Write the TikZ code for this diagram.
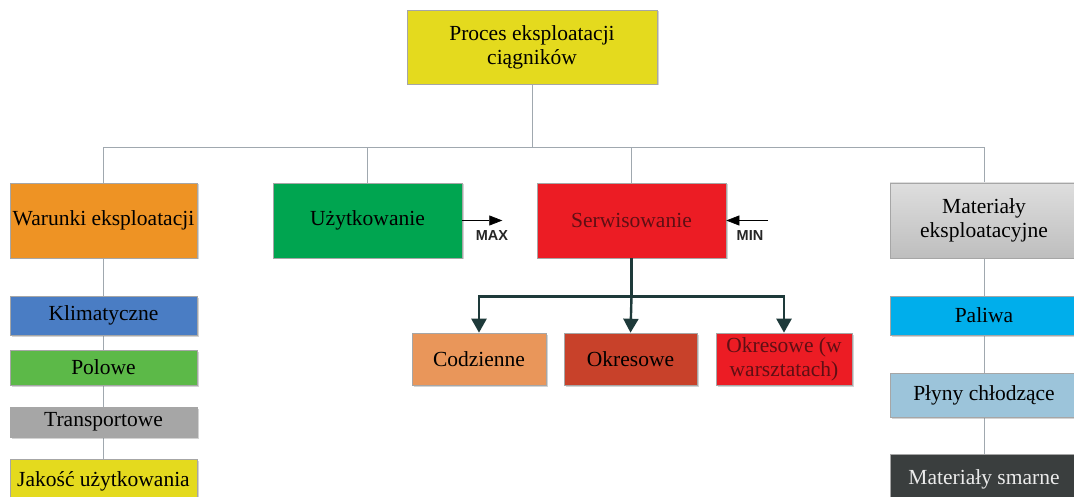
\documentclass[tikz,border=0pt]{standalone}
\usepackage{fontspec}
\setmainfont{Liberation Serif}
\setsansfont{Liberation Sans}
\usetikzlibrary{arrows.meta,shadows,backgrounds}
\definecolor{cTop}{RGB}{228,218,30}
\definecolor{cWar}{RGB}{238,147,36}
\definecolor{cUzy}{RGB}{0,165,80}
\definecolor{cSer}{RGB}{236,28,36}
\definecolor{cMat}{RGB}{200,200,200}
\definecolor{cKli}{RGB}{74,125,196}
\definecolor{cPol}{RGB}{92,185,72}
\definecolor{cTra}{RGB}{166,166,166}
\definecolor{cCod}{RGB}{233,150,90}
\definecolor{cOkr}{RGB}{200,65,42}
\definecolor{cPal}{RGB}{0,174,235}
\definecolor{cPly}{RGB}{156,196,218}
\definecolor{cSma}{RGB}{58,62,62}
\definecolor{cLine}{RGB}{160,168,175}
\definecolor{cDark}{RGB}{30,58,58}
\definecolor{cSerTxt}{RGB}{95,15,20}
\tikzset{
  box/.style={draw=black!35, line width=0.6pt, inner sep=0pt, align=center,
    font=\fontsize{21.5}{24}\selectfont,
    drop shadow={shadow xshift=1.5pt, shadow yshift=-1.5pt, opacity=0.35}},
  conn/.style={draw=cLine, line width=1pt},
  darrow/.style={draw=cDark, line width=2.4pt, -{Triangle[length=14pt,width=15pt]}},
  dline/.style={draw=cDark, line width=2.4pt},
  marrow/.style={draw=black, line width=0.6pt, -{Triangle[length=13pt,width=10pt]}},
  mlabel/.style={font=\sffamily\bfseries\fontsize{14.5}{16}\selectfont, inner sep=0pt, text=black!85}
}
\begin{document}
\begin{tikzpicture}[x=1pt,y=-1pt]
\useasboundingbox (0,0) rectangle (1074,497);
% main boxes
\node[box, fill=cTop, minimum width=250pt, minimum height=74pt] (top) at (532,47) {Proces eksploatacji\\ciągników};
\node[box, fill=cWar, minimum width=187pt, minimum height=75pt] (war) at (103.5,220.5) {Warunki eksploatacji};
\node[box, fill=cUzy, minimum width=189pt, minimum height=75pt] (uzy) at (367.5,220.5) {Użytkowanie};
\node[box, fill=cSer, minimum width=189pt, minimum height=75pt, text=cSerTxt] (ser) at (631.5,220.5) {Serwisowanie};
\node[box, top color=cMat!60, bottom color=cMat!95!black, minimum width=188pt, minimum height=75pt] (mat) at (984,220.5) {Materiały\\eksploatacyjne};
% left column
\node[box, fill=cKli, minimum width=187pt, minimum height=39pt] (kli) at (103.5,315.5) {Klimatyczne};
\node[box, fill=cPol, minimum width=187pt, minimum height=35pt] (pol) at (103.5,367.5) {Polowe};
\node[box, fill=cTra, minimum width=187pt, minimum height=30pt] (tra) at (103.5,422) {Transportowe};
\node[box, fill=cTop, minimum width=187pt, minimum height=45pt] (jak) at (103.5,481.5) {Jakość użytkowania};
% service children
\node[box, fill=cCod, minimum width=134pt, minimum height=52pt] (cod) at (479,359) {Codzienne};
\node[box, fill=cOkr, minimum width=133pt, minimum height=52pt] (okr) at (630.5,359) {Okresowe};
\node[box, fill=cSer, minimum width=136pt, minimum height=52pt, text=cSerTxt] (okw) at (784,359) {Okresowe (w\\warsztatach)};
% right column
\node[box, fill=cPal, minimum width=188pt, minimum height=39pt] (pal) at (984,315.5) {Paliwa};
\node[box, fill=cPly, minimum width=188pt, minimum height=44pt] (ply) at (984,395) {Płyny chłodzące};
\node[box, fill=cSma, text=white!92!black, minimum width=188pt, minimum height=50pt] (sma) at (984,479) {Materiały smarne};
% connectors
\begin{scope}[on background layer]
\draw[conn] (top.south) -- ++(0,63) coordinate (bus);
\draw[conn] (bus) -| (war.north);
\draw[conn] (bus) -| (uzy.north);
\draw[conn] (bus) -| (ser.north);
\draw[conn] (bus) -| (mat.north);
\draw[conn] (war.south) -- (jak.north);
\draw[conn] (mat.south) -- (sma.north);
\end{scope}
\draw[dline] (ser.south) -- ++(0,38) coordinate (br);
\draw[darrow] (br) -- (okr.north);
\draw[darrow] (br) -| (cod.north);
\draw[darrow] (br) -| (okw.north);
% MAX / MIN
\draw[marrow] (uzy.east) -- ++(40,0) coordinate (maxend);
\node[mlabel] (maxl) at (492,236) {MAX};
\coordinate (minstart) at (768,220.5);
\draw[marrow] (minstart) -- (ser.east);
\node[mlabel] (minl) at (750,236) {MIN};
\end{tikzpicture}
\end{document}
